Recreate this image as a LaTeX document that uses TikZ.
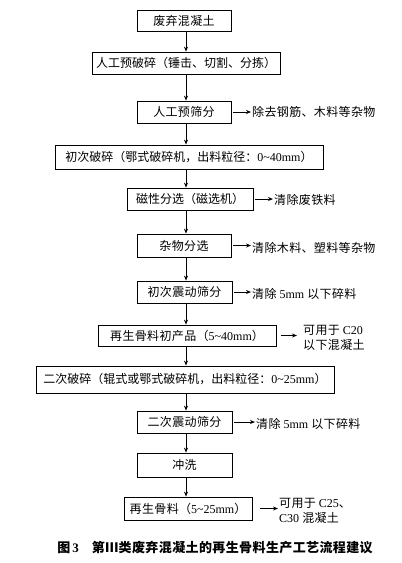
\documentclass[tikz,border=0pt]{standalone}
\usepackage{fontspec}
\setmainfont{Noto Sans CJK SC}
\newfontfamily\cjksp[LetterSpace=3]{Noto Sans CJK SC}
\newfontfamily\lat{Liberation Serif}
\usetikzlibrary{arrows.meta}
\newcommand{\tl}{\textasciitilde}
\tikzset{
  box/.style={draw, line width=0.8pt, inner sep=0pt, font=\fontsize{12}{14}\selectfont\cjksp},
  tightbox/.style={box, font=\fontsize{12}{14}\selectfont\rmfamily},
  side/.style={anchor=west, inner sep=1pt, align=left, font=\fontsize{12}{15}\selectfont\cjksp},
  arr/.style={line width=0.8pt, -{Stealth[length=5pt,width=4pt]}},
}
\begin{document}
\begin{tikzpicture}[x=1pt,y=-1pt]
\useasboundingbox (0,0) rectangle (402,563);
\coordinate (axis) at (186,0);
\node[box, minimum width=94, minimum height=21] (b1) at (184,20.5) {废弃混凝土};
\node[tightbox, minimum width=188, minimum height=22] (b2) at (186,63) {人工预破碎（锤击、切割、分拣）};
\node[box, minimum width=94, minimum height=22] (b3) at (184,112) {人工预筛分};
\node[tightbox, minimum width=268, minimum height=24] (b4) at (189,157) {初次破碎（鄂式破碎机，出料粒径：{\lat 0\tl 40mm}）};
\node[tightbox, minimum width=126, minimum height=22] (b5) at (190,199) {磁性分选（磁选机）};
\node[box, minimum width=94, minimum height=23] (b6) at (184,245.5) {杂物分选};
\node[box, minimum width=95, minimum height=22] (b7) at (184.5,292) {初次震动筛分};
\node[box, minimum width=178, minimum height=21] (b8) at (187,335.5) {再生骨料初产品（{\lat 5\tl 40mm}）};
\node[tightbox, minimum width=298, minimum height=27] (b9) at (185,379.5) {二次破碎（辊式或鄂式破碎机，出料粒径：{\lat 0\tl 25mm}）};
\node[box, minimum width=95, minimum height=22] (b10) at (184.5,422) {二次震动筛分};
\node[box, minimum width=95, minimum height=24] (b11) at (184.5,465) {冲洗};
\node[box, minimum width=128, minimum height=23] (b12) at (188,508.5) {再生骨料（{\lat 5\tl 25mm}）};

\node[side] (s3) at (251,112) {除去钢筋、木料等杂物};
\node[side] (s5) at (273,200) {清除废铁料};
\node[side] (s6) at (251,248) {清除木料、塑料等杂物};
\node[side] (s7) at (251,294) {清除 {\lat 5mm} 以下碎料};
\node[side] (s8) at (302,338) {可用于 {\lat C20}\\以下混凝土};
\node[side] (s10) at (255,424) {清除 {\lat 5mm} 以下碎料};
\node[side] (s12) at (278,511) {可用于 {\lat C25}、\\{\lat C30} 混凝土};

\node[font=\fontsize{13}{15}\selectfont\cjksp\bfseries] (cap) at (215,548) {图\,{\lat\bfseries 3}\quad 第Ⅲ类废弃混凝土的再生骨料生产工艺流程建议};

\foreach \a/\b in {b1/b2,b2/b3,b3/b4,b4/b5,b5/b6,b6/b7,b7/b8,b8/b9,b9/b10,b10/b11,b11/b12}
  \draw[arr] (\a.south -| axis) -- (\b.north -| axis);

\foreach \a/\b in {b3/s3,b5/s5,b6/s6,b7/s7,b10/s10}
  \draw[arr] ([xshift=2]\a.east) -- (\b.west |- \a.east);
\draw[arr] ([xshift=5]b8.east) -- ([xshift=-5]s8.west |- b8.east);
\draw[arr] ([xshift=8]b12.east) -- (s12.west |- b12.east);
\end{tikzpicture}
\end{document}
